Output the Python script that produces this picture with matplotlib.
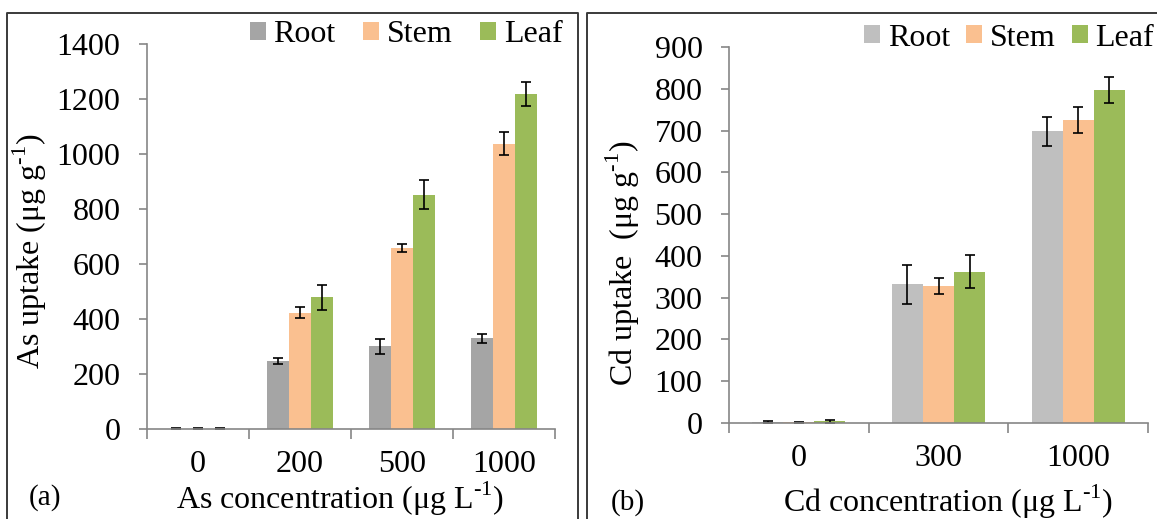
import numpy as np
import matplotlib
matplotlib.use("Agg")
import matplotlib.pyplot as plt
from matplotlib.lines import Line2D

plt.rcParams["font.family"] = ["Liberation Serif", "DejaVu Serif"]
plt.rcParams["mathtext.fontset"] = "custom"
plt.rcParams["mathtext.rm"] = "Liberation Serif"

# ── Panel (a): As uptake ────────────────────────────────────────────────────
as_conc = ["0", "200", "500", "1000"]
as_root = [1.5, 249, 301, 330]
as_root_err = [1, 11, 28, 16]
as_stem = [1.5, 423, 658, 1038]
as_stem_err = [1, 19, 14, 41]
as_leaf = [1.5, 479, 852, 1218]
as_leaf_err = [1, 45, 52, 44]

# ── Panel (b): Cd uptake ────────────────────────────────────────────────────
cd_conc = ["0", "300", "1000"]
cd_root = [3, 332, 698]
cd_root_err = [2, 47, 34]
cd_stem = [2, 328, 725]
cd_stem_err = [1, 19, 31]
cd_leaf = [4, 362, 798]
cd_leaf_err = [3, 39, 31]

organs = ["Root", "Stem", "Leaf"]

FS = 23
W, H = 1157, 519
SUP = "$^{\\mathregular{\\text{-}1}}$"


def fx(px):
    return px / W


def fy(py):
    return 1 - py / H


def draw_panel(ax, cats, series, errs, colors, width, ymax, ystep):
    x = np.arange(len(cats))
    for j, (vals, err, col, name) in enumerate(zip(series, errs, colors, organs)):
        ax.bar(x + (j - 1) * width, vals, width, color=col, label=name,
               yerr=err, capsize=3.6,
               error_kw=dict(ecolor="black", elinewidth=1.2, capthick=1.2))
    ax.set_xlim(-0.5, len(cats) - 0.5)
    ax.set_ylim(0, ymax)
    ax.set_yticks(np.arange(0, ymax + 1, ystep))
    # boundary ticks between groups, labels at group centres
    ax.set_xticks(np.arange(len(cats) + 1) - 0.5)
    ax.set_xticklabels([])
    ax.set_xticks(x, minor=True)
    ax.set_xticklabels(cats, minor=True)
    ax.tick_params(axis="x", which="major", length=7, width=1.2,
                   color="#868686", direction="out")
    ax.tick_params(axis="x", which="minor", length=0, pad=15, labelsize=FS)
    ax.tick_params(axis="y", length=6, width=1.2, color="#868686",
                   labelsize=FS, pad=13)
    for s in ("top", "right"):
        ax.spines[s].set_visible(False)
    for s in ("left", "bottom"):
        ax.spines[s].set_color("#868686")
        ax.spines[s].set_linewidth(1.2)


fig = plt.figure(figsize=(W / 100, H / 100), dpi=100)

ax1 = fig.add_axes([fx(147), fy(429), fx(555 - 147), (429 - 44) / H])
draw_panel(ax1, as_conc, [as_root, as_stem, as_leaf],
           [as_root_err, as_stem_err, as_leaf_err],
           ["#A5A5A5", "#FAC090", "#9BBB59"], 0.216, 1400, 200)
ax1.legend(loc="center", bbox_to_anchor=(fx(406), fy(35)),
           bbox_transform=fig.transFigure, ncol=3, frameon=False,
           fontsize=FS, handlelength=0.5, handleheight=0.5,
           handletextpad=0.25, columnspacing=0.85, borderaxespad=0,
           borderpad=0)

ax2 = fig.add_axes([fx(729), fy(423), fx(1148 - 729), (423 - 47) / H])
draw_panel(ax2, cd_conc, [cd_root, cd_stem, cd_leaf],
           [cd_root_err, cd_stem_err, cd_leaf_err],
           ["#BFBFBF", "#FAC090", "#9BBB59"], 0.222, 900, 100)
ax2.legend(loc="center", bbox_to_anchor=(fx(1009), fy(38)),
           bbox_transform=fig.transFigure, ncol=3, frameon=False,
           fontsize=FS, handlelength=0.5, handleheight=0.5,
           handletextpad=0.25, columnspacing=0.5, borderaxespad=0,
           borderpad=0)

# axis titles and panel letters
fig.text(fx(30), fy(251), "As uptake (μg g" + SUP + ")",
         rotation=90, ha="center", va="center", fontsize=FS)
fig.text(fx(623), fy(263), "Cd uptake  (μg g" + SUP + ")",
         rotation=90, ha="center", va="center", fontsize=FS)
fig.text(fx(340), fy(499), "As concentration (μg L" + SUP + ")",
         ha="center", va="center", fontsize=FS)
fig.text(fx(45), fy(498), "(a)", ha="center", va="center", fontsize=21)
fig.text(fx(948), fy(502), "Cd concentration (μg L" + SUP + ")",
         ha="center", va="center", fontsize=FS)
fig.text(fx(628), fy(503), "(b)", ha="center", va="center", fontsize=21)

# panel frames, open at the lower edge of the figure
for x0, x1 in [(7, 578), (587, 1162)]:
    fig.add_artist(Line2D([fx(x0), fx(x0), fx(x1), fx(x1)],
                          [0, fy(13), fy(13), 0],
                          transform=fig.transFigure,
                          color="#3a3a3a", lw=1.4))

fig.savefig("out.png", dpi=100)
